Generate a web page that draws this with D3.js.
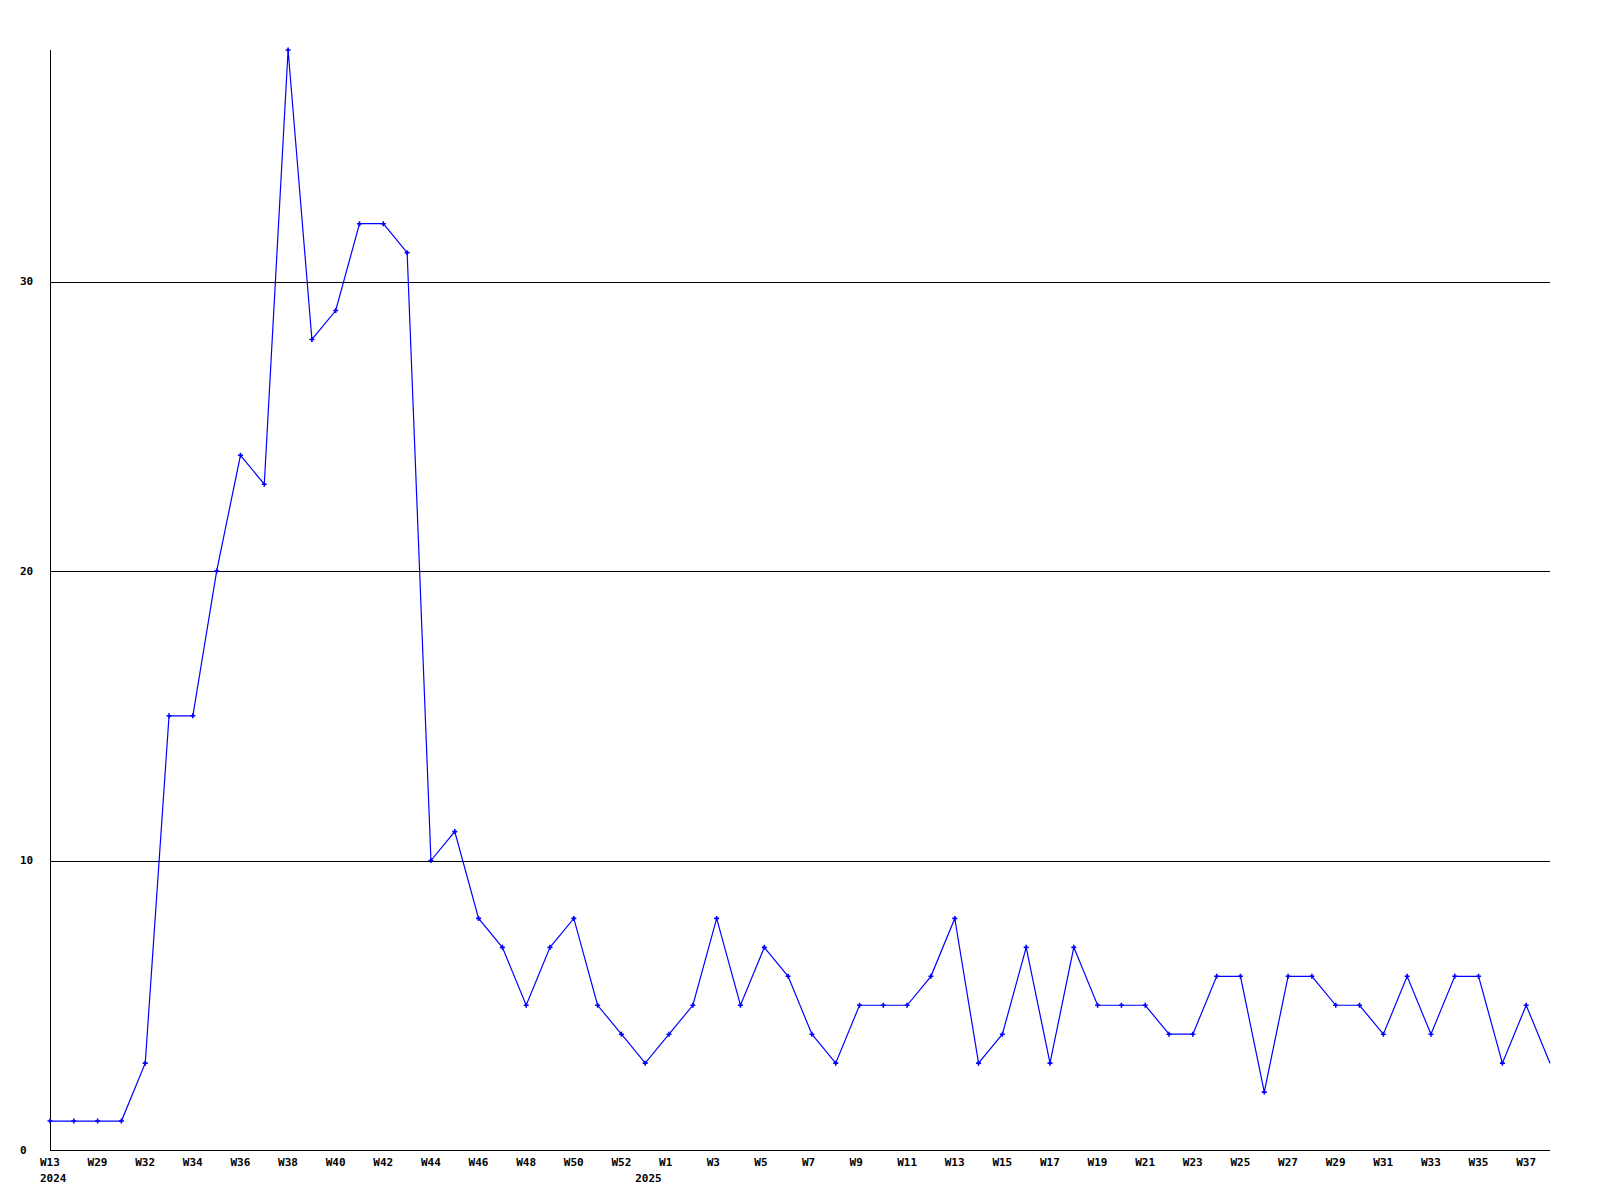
<!DOCTYPE html>
<html>
<head>
<meta charset="utf-8">
<script src="https://cdn.jsdelivr.net/npm/d3@7"></script>
<style>
  body { margin: 0; background: #fff; }
  text { font-family: "DejaVu Sans Mono", "Liberation Mono", monospace; font-weight: bold; font-size: 11px; fill: #000; }
</style>
</head>
<body>
<svg width="1600" height="1200"></svg>
<script>
// week labels, one per point
var weeks = ["W13","W28","W29","W31","W32","W33","W34","W35","W36","W37","W38","W39","W40","W41","W42","W43",
    "W44","W45","W46","W47","W48","W49","W50","W51","W52","W53",
    "W1","W2","W3","W4","W5","W6","W7","W8","W9","W10","W11","W12","W13","W14","W15","W16","W17","W18","W19","W20",
    "W21","W22","W23","W24","W25","W26","W27","W28","W29","W30","W31","W32","W33","W34","W35","W36","W37","W38"];

var counts = [1,1,1,1,3,15,15,20,24,23,38,28,29,32,32,31,10,11,8,7,5,7,8,5,4,3,
    4,5,8,5,7,6,4,3,5,5,5,6,8,3,4,7,3,7,5,5,5,4,4,6,6,2,6,6,5,5,4,6,4,6,6,3,5,3];

var years = [{idx: 0, label: "2024"}, {idx: 25, label: "2025"}];

var yTicks = [0, 10, 20, 30];

var svg = d3.select("svg");
var plotL = 50, plotR = 1550, plotT = 50, plotB = 1150;

var x = d3.scalePoint()
    .domain(d3.range(counts.length))
    .range([plotL, plotR]);

var y = d3.scaleLinear()
    .domain([0, 38])
    .range([plotB, plotT]);

// grid lines
svg.selectAll(".grid")
    .data(yTicks.filter(function(d) { return d > 0; }))
    .enter().append("line")
        .attr("x1", plotL).attr("x2", plotR)
        .attr("y1", function(d) { return Math.round(y(d)) + 0.5; })
        .attr("y2", function(d) { return Math.round(y(d)) + 0.5; })
        .style("stroke", "#000")
        .style("stroke-width", 1);

// y labels
svg.selectAll(".ylab")
    .data(yTicks)
    .enter().append("text")
        .attr("x", 20)
        .attr("y", function(d) { return y(d) + 3.5; })
        .text(function(d) { return d; });

// axes
svg.append("line")
    .attr("x1", plotL + 0.5).attr("x2", plotL + 0.5)
    .attr("y1", plotT).attr("y2", plotB)
    .style("stroke", "#000");
svg.append("line")
    .attr("x1", plotL).attr("x2", plotR)
    .attr("y1", plotB + 0.5).attr("y2", plotB + 0.5)
    .style("stroke", "#000");

// week labels, every other point
svg.selectAll(".xlab")
    .data(weeks.map(function(w, i) { return {w: w, i: i}; }).filter(function(d) { return d.i % 2 == 0; }))
    .enter().append("text")
        .attr("x", function(d) { return x(d.i) - 10; })
        .attr("y", 1166)
        .text(function(d) { return d.w; });

svg.selectAll(".yearlab")
    .data(years)
    .enter().append("text")
        .attr("x", function(d) { return x(d.idx) - 10; })
        .attr("y", 1182)
        .text(function(d) { return d.label; });

// series
var line = d3.line()
    .x(function(d, i) { return x(i); })
    .y(function(d) { return y(d); });

svg.append("path")
    .datum(counts)
    .attr("d", line)
    .style("fill", "none")
    .style("stroke", "#0000ff")
    .style("stroke-width", 1.2);

svg.selectAll(".pt")
    .data(counts.slice(0, counts.length - 1))
    .enter().append("path")
        .attr("transform", function(d, i) { return "translate(" + x(i) + "," + y(d) + ")"; })
        .attr("d", "M-2.5,0H2.5M0,-2.5V2.5")
        .style("stroke", "#0000ff")
        .style("stroke-width", 1.6);
</script>
</body>
</html>
